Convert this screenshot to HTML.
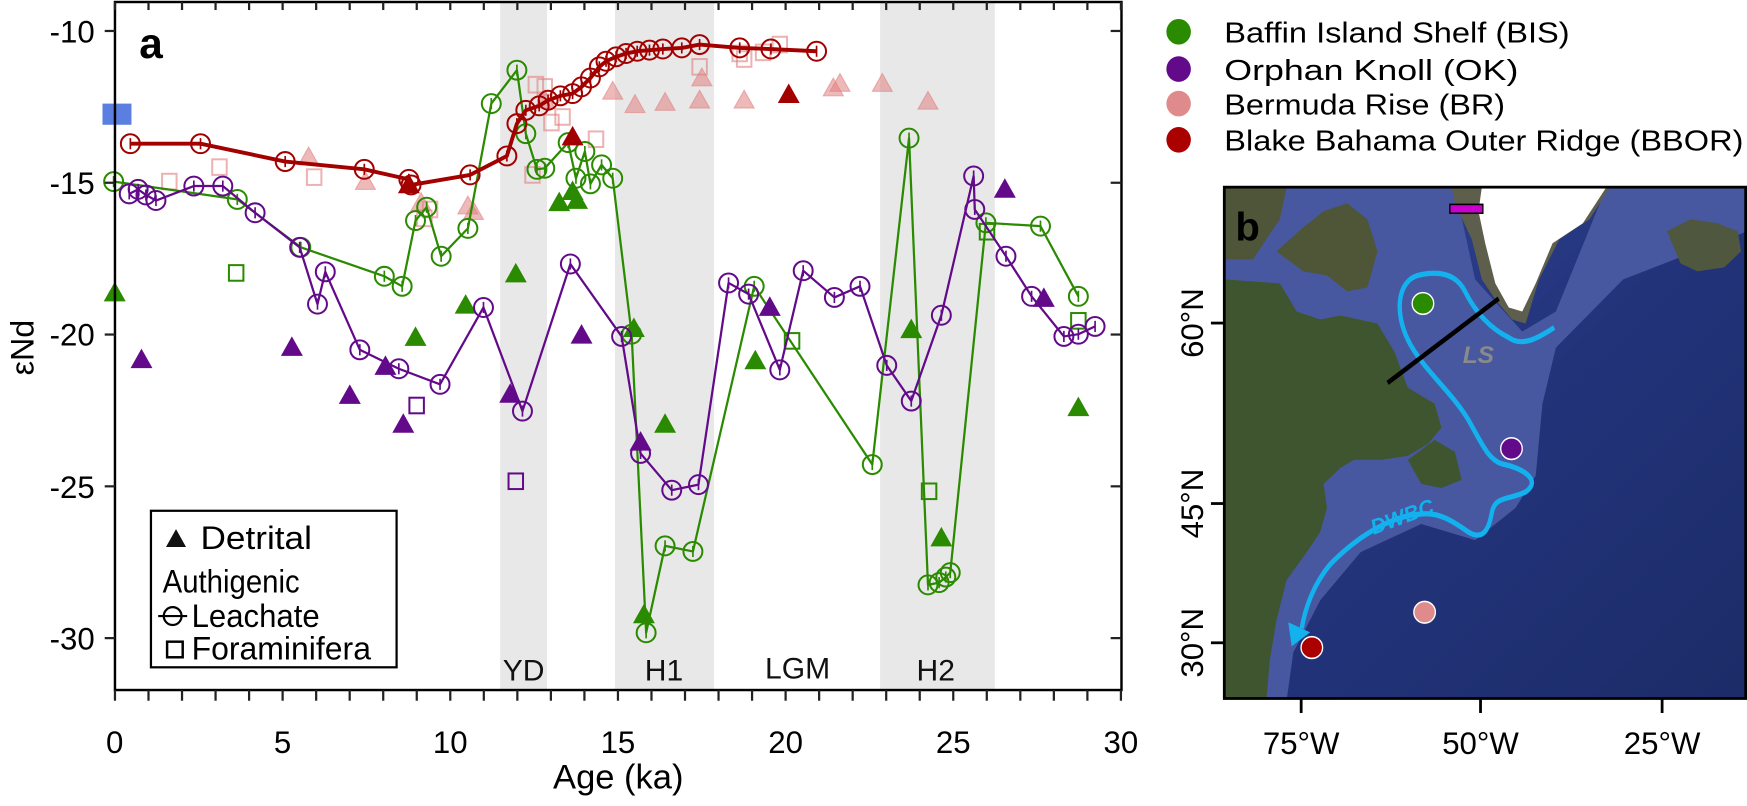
<!DOCTYPE html>
<html><head><meta charset="utf-8"><style>
html,body{margin:0;padding:0;background:#fff;}
svg{display:block;font-family:"Liberation Sans",Arial,sans-serif;}
</style></head><body>
<svg id="s" width="1747" height="806" viewBox="0 0 1568.2 723.5" preserveAspectRatio="none" xmlns="http://www.w3.org/2000/svg">
<defs>
<clipPath id="mc"><rect x="1099" y="168" width="468" height="459"/></clipPath>
<linearGradient id="oc" x1="0" y1="0" x2="1" y2="1"><stop offset="0" stop-color="#34489a"/><stop offset="0.5" stop-color="#22337a"/><stop offset="1" stop-color="#1c2c68"/></linearGradient>
</defs>
<rect x="449" y="2" width="42" height="617" fill="#e8e8e8"/>
<rect x="552" y="2" width="89" height="617" fill="#e8e8e8"/>
<rect x="790" y="2" width="103" height="617" fill="#e8e8e8"/>
<g font-size="27" text-anchor="middle" fill="#111">
<text x="470" y="611">YD</text><text x="596" y="611">H1</text><text x="716" y="609">LGM</text><text x="840" y="611">H2</text>
</g>
<g id="data"></g>
<rect x="92" y="93" width="26" height="19" fill="#5b7fe0"/>
<rect x="103.2" y="1.8" width="903.5" height="617.6" fill="none" stroke="#000" stroke-width="2.2"/>
<g id="ticks" stroke="#222" stroke-width="2"></g>
<g font-size="28" text-anchor="end" fill="#000">
<text x="85" y="38">-10</text><text x="85" y="174">-15</text><text x="85" y="310">-20</text><text x="85" y="447">-25</text><text x="85" y="583">-30</text>
</g>
<g font-size="28" text-anchor="middle" fill="#000">
<text x="103" y="676">0</text><text x="253.7" y="676">5</text><text x="404.2" y="676">10</text><text x="554.7" y="676">15</text><text x="705.2" y="676">20</text><text x="855.7" y="676">25</text><text x="1006.2" y="676">30</text>
</g>
<text x="555" y="708" font-size="31" text-anchor="middle">Age (ka)</text>
<text transform="translate(30,312) rotate(-90)" font-size="29" text-anchor="middle">εNd</text>
<text x="125" y="52" font-size="38" font-weight="bold">a</text>
<rect x="135.5" y="458.5" width="220.5" height="140.5" fill="#fff" stroke="#000" stroke-width="2"/>
<polygon points="149,491 158,475 167,491" fill="#111"/>
<text x="180" y="493" font-size="29" textLength="100" lengthAdjust="spacingAndGlyphs">Detrital</text>
<text x="146" y="532" font-size="29" textLength="123" lengthAdjust="spacingAndGlyphs">Authigenic</text>
<line x1="142" y1="553" x2="168" y2="553" stroke="#000" stroke-width="2"/><circle cx="155" cy="553" r="8" fill="none" stroke="#000" stroke-width="2"/>
<text x="172" y="563" font-size="29" textLength="115" lengthAdjust="spacingAndGlyphs">Leachate</text>
<rect x="150" y="576" width="14" height="14" fill="none" stroke="#000" stroke-width="2.2"/>
<text x="172" y="592" font-size="29" textLength="161" lengthAdjust="spacingAndGlyphs">Foraminifera</text>
<g font-size="26">
<ellipse cx="1058" cy="28.5" rx="11" ry="11.5" fill="#2a8a00"/><text x="1099" y="38" textLength="310" lengthAdjust="spacingAndGlyphs">Baffin Island Shelf (BIS)</text>
<ellipse cx="1058" cy="62" rx="11" ry="11.5" fill="#620a8a"/><text x="1099" y="72" textLength="264" lengthAdjust="spacingAndGlyphs">Orphan Knoll (OK)</text>
<ellipse cx="1058" cy="93" rx="11" ry="11.5" fill="#e08b8b"/><text x="1099" y="103" textLength="252" lengthAdjust="spacingAndGlyphs">Bermuda Rise (BR)</text>
<ellipse cx="1058" cy="125.5" rx="11" ry="11.5" fill="#aa0000"/><text x="1099" y="135" textLength="466" lengthAdjust="spacingAndGlyphs">Blake Bahama Outer Ridge (BBOR)</text>
</g>
<g clip-path="url(#mc)">
<rect x="1099" y="168" width="468" height="459" fill="url(#oc)"/>
<g transform="translate(1099,168) scale(0.3022,0.36) translate(-15,-20)">
<path d="M15,20 L700,20 L760,250 L900,380 L1000,330 L1150,20 L1568,20 L1568,130 L1200,250 L1000,420 L960,560 L940,740 L880,820 L760,900 L600,860 L420,930 L300,1050 L220,1180 L200,1300 L15,1300 Z" fill="#4758a0"/>
<path d="M15,250 L180,260 L230,330 L300,350 L360,340 L470,360 L520,430 L560,520 L640,560 L660,620 L620,660 L560,690 L480,700 L400,700 L360,720 L310,760 L320,820 L300,880 L260,930 L200,1000 L170,1100 L150,1200 L140,1300 L15,1300 Z" fill="#3f5530"/>
<path d="M170,180 L250,120 L310,80 L380,60 L440,100 L470,180 L440,270 L380,280 L320,240 L250,230 Z" fill="#4f5537"/>
<path d="M15,20 L200,20 L180,100 L100,200 L15,200 Z" fill="#4f5538"/>
<path d="M560,700 L640,650 L700,680 L720,750 L660,770 L600,760 Z" fill="#3f5530"/>
<path d="M690,20 L1160,20 L1100,100 L1010,150 L950,250 L910,360 L870,350 L820,300 L780,250 L750,150 L700,60 Z" fill="#5d5e4c"/>
<path d="M780,20 L1150,20 L1080,110 L990,160 L940,260 L900,330 L860,320 L820,260 L790,160 L770,80 Z" fill="#ffffff"/>
<path d="M1330,130 L1400,100 L1480,110 L1540,130 L1550,180 L1500,220 L1420,230 L1370,210 Z" fill="#4f573f"/>
<rect x="685" y="63" width="98" height="22" fill="#cc00cc" stroke="#000" stroke-width="4"/>
<path d="M995,370 C950,395 900,420 860,395 C800,370 760,330 730,280 C700,230 640,230 590,240 C530,255 520,330 560,400 C600,470 690,530 740,600 C780,660 800,700 840,710 C900,720 960,750 910,780 C860,800 820,790 810,830 C800,880 780,900 740,880 C690,850 650,830 600,835 C500,840 400,900 330,960 C280,1010 255,1070 245,1120" fill="none" stroke="#13b2ee" stroke-width="13"/>
<polygon points="215,1165 205,1105 270,1130" fill="#13b2ee"/>
<line x1="500" y1="508" x2="830" y2="298" stroke="#000" stroke-width="12"/>
<ellipse cx="605" cy="310" rx="32" ry="27" fill="#2a8a00" stroke="#fff" stroke-width="4"/>
<ellipse cx="868" cy="672" rx="32" ry="27" fill="#620a8a" stroke="#fff" stroke-width="4"/>
<ellipse cx="610" cy="1080" rx="32" ry="27" fill="#e08b8b" stroke="#fff" stroke-width="4"/>
<ellipse cx="275" cy="1168" rx="32" ry="27" fill="#aa0000" stroke="#fff" stroke-width="4"/>
</g>
<text x="1313" y="326" font-size="22" font-style="italic" font-weight="bold" fill="#8a8a8a">LS</text>
<text transform="translate(1233,480) rotate(-20)" font-size="19" font-weight="bold" font-style="italic" fill="#13b2ee">DWBC</text>
<text x="1109" y="216" font-size="36" font-weight="bold">b</text>
</g>
<rect x="1099" y="168" width="468" height="459" fill="none" stroke="#000" stroke-width="2.5"/>
<g stroke="#000" stroke-width="2.5">
<line x1="1168" y1="627" x2="1168" y2="640"/><line x1="1329" y1="627" x2="1329" y2="640"/><line x1="1492" y1="627" x2="1492" y2="640"/>
<line x1="1087" y1="290" x2="1099" y2="290"/><line x1="1087" y1="452" x2="1099" y2="452"/><line x1="1087" y1="577" x2="1099" y2="577"/>
</g>
<g font-size="28" text-anchor="middle">
<text x="1168" y="677">75°W</text><text x="1329" y="677">50°W</text><text x="1492" y="677">25°W</text>
<text transform="translate(1080,290) rotate(-90)">60°N</text>
<text transform="translate(1080,452) rotate(-90)">45°N</text>
<text transform="translate(1080,577) rotate(-90)">30°N</text>
</g>
<script>
(function(){
var NS="http://www.w3.org/2000/svg";
function el(p,t,a){var e=document.createElementNS(NS,t);for(var k in a)e.setAttribute(k,a[k]);p.appendChild(e);return e;}
var T=document.getElementById("ticks");
for(var i=0;i<=30;i++){var x=103.2+i*30.1;el(T,"line",{x1:x,y1:619.4,x2:x,y2:629});el(T,"line",{x1:x,y1:1.8,x2:x,y2:9});}
for(var v=-10;v>=-30;v-=5){var y=27.8+(-10-v)*27.25;el(T,"line",{x1:94,y1:y,x2:103.2,y2:y});el(T,"line",{x1:997,y1:y,x2:1006.7,y2:y});}
var D=document.getElementById("data");
function P(s){return s.trim().split(/\s*;\s*/).map(function(q){return q.split(",").map(Number);});}
function line(pts,c,w){el(D,"polyline",{points:pts.map(function(p){return p.join(",")}).join(" "),fill:"none",stroke:c,"stroke-width":w,"stroke-linejoin":"round"});}
function circ(pts,c,op){pts.forEach(function(p){var g=el(D,"g",{opacity:op||1});el(g,"circle",{cx:p[0],cy:p[1],r:8.5,fill:"none",stroke:c,"stroke-width":1.8});el(g,"line",{x1:p[0],y1:p[1]-5,x2:p[0],y2:p[1]+5,stroke:c,"stroke-width":1.5});});}
function tri(pts,c,op){pts.forEach(function(p){el(D,"polygon",{points:(p[0]-9)+","+(p[1]+7)+" "+p[0]+","+(p[1]-9)+" "+(p[0]+9)+","+(p[1]+7),fill:c,stroke:c,"stroke-width":1,"fill-opacity":op||1,"stroke-opacity":op||1});});}
function sq(pts,c,op){pts.forEach(function(p){el(D,"rect",{x:p[0]-6.5,y:p[1]-7,width:13,height:14,fill:"none",stroke:c,"stroke-width":1.8,opacity:op||1});});}
var pink="#e07f7f";
tri(P("277,141;328,163;378,182;425,190;420,185;550,82;570,94;597,92;628,90;630,70;668,90;748,79;754,75;792,75;833,91;489,90"),pink,0.55);
sq(P("152,163;197,150;282,159;381,196;386,188;478,157;481,76;489,78;505,105;535,125;495,110;628,60;664,48;685,47;700,40;668,53"),pink,0.6);
var g="#2a8a00",pu="#620a8a",br="#a30000";
var G=P("102,163;213,179;270,222;345,248;361,257;373,198;383,186;396,230;420,205;441,93;464,63;472,120;482,152;489,151;510,128;517,160;525,136;530,165;540,148;550,160;567,300;580,568;597,490;622,495;677,257;783,417;816,124;833,525;843,523;849,518;853,514;885,200;934,203;968,266");
line(G,g,2);circ(G,g);
sq(P("212,245;711,306;834,441;886,208;968,288"),g);
tri(P("103,263;373,303;418,274;463,246;502,182;514,172;518,180;569,295;578,552;597,381;678,324;818,296;845,483;968,366"),g);
var U=P("116,174;124,170;131,175;140,180;174,167;200,167;229,191;269,222;285,273;292,244;323,314;358,331;395,345;434,276;469,369;512,237;558,302;575,407;603,440;627,435;654,254;672,264;700,332;721,243;749,267;772,257;796,328;818,360;845,283;874,158;875,188;903,230;926,266;955,302;968,300;983,293");
line(U,pu,2);circ(U,pu);
tri(P("127,323;262,312;314,355;346,329;362,381;458,354;522,301;575,397;691,276;902,170;937,268"),pu);
sq(P("374,364;463,432"),pu);
var bb=P("117,129;180,129;256,145;327,152;367,161;369,166;422,157;455,140;464,111;472,99;484,95;492,90;503,86;514,84;522,78;530,70;538,60;544,55;553,51;562,48;572,46;583,45;595,44;612,43;628,40;664,43;692,44;733,46");
line(bb,br,3.5);circ(bb,br);
tri(P("367,166;514,123;708,85"),br);
})();
</script>
</svg>
</body></html>
